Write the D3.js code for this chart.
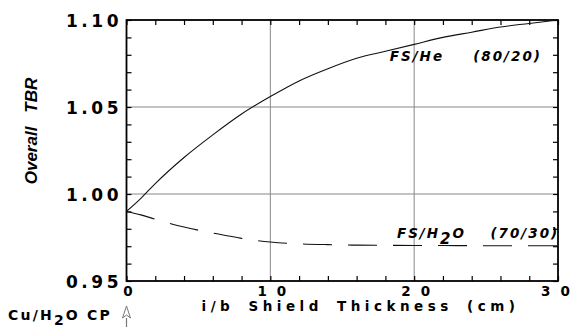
<!DOCTYPE html>
<html>
<head>
<meta charset="utf-8">
<script src="https://cdn.jsdelivr.net/npm/d3@7"></script>
<style>
  body { margin: 0; background: #fff; }
  svg { display: block; }
</style>
</head>
<body>
<div id="container"></div>
<script>
// shield thickness (cm)
let thickness = [0, 1, 2, 4, 6, 8, 10, 12, 14, 16, 18, 20, 22, 24, 26, 28, 30]
// overall TBR, FS/He (80/20)
let tbrHe = [0.990, 0.9975, 1.006, 1.021, 1.034, 1.046, 1.056, 1.065, 1.072, 1.078, 1.082, 1.086, 1.090, 1.093, 1.096, 1.098, 1.100]
// overall TBR, FS/H2O (70/30)
let tbrH2O = [0.990, 0.988, 0.9855, 0.981, 0.9776, 0.9745, 0.9724, 0.9714, 0.9709, 0.9706, 0.9705, 0.9704, 0.9704, 0.9703, 0.9703, 0.9703, 0.9703]

let xTickLabels = [0, 10, 20, 30]
let yTickLabels = [0.95, 1.00, 1.05, 1.10]
let xMinor = [0, 2, 4, 6, 8, 10, 12, 14, 16, 18, 20, 22, 24, 26, 28, 30]
let yMinor = [0.95, 0.96, 0.97, 0.98, 0.99, 1.00, 1.01, 1.02, 1.03, 1.04, 1.05, 1.06, 1.07, 1.08, 1.09, 1.10]
let xGrid = [10, 20]
let yGrid = [1.00, 1.05]

let w = 576, h = 327
let m = {left: 126.5, right: 18, top: 20, bottom: 46}

let svg = d3.select("#container").append("svg")
    .attr("width", w)
    .attr("height", h)

let x = d3.scaleLinear().domain([0, 30]).range([m.left, w - m.right])
let y = d3.scaleLinear().domain([0.95, 1.10]).range([h - m.bottom, m.top])

let numFont = "DejaVu Sans, sans-serif"

// spread the characters of a tick label without trailing space
function spread(sel, ls) {
    sel.each(function () {
        let t = d3.select(this)
        let s = t.text()
        t.text("")
        s.split("").forEach((c, i) => {
            t.append("tspan")
                .attr("dx", i > 0 ? ls : null)
                .text(c)
        })
    })
}

// grid
svg.append("g").selectAll("line").data(xGrid).join("line")
    .attr("x1", d => x(d)).attr("x2", d => x(d))
    .attr("y1", y(0.95)).attr("y2", y(1.10))
    .attr("stroke", "#888").attr("stroke-width", 1)
svg.append("g").selectAll("line").data(yGrid).join("line")
    .attr("x1", x(0)).attr("x2", x(30))
    .attr("y1", d => y(d)).attr("y2", d => y(d))
    .attr("stroke", "#888").attr("stroke-width", 1)

// axes with inward ticks
let fmtY = d => yTickLabels.some(v => Math.abs(v - d) < 1e-6) ? d3.format(".2f")(d) : ""
let fmtX = d => xTickLabels.includes(d) ? String(d) : ""

let gLeft = svg.append("g")
    .attr("transform", `translate(${x(0)},0)`)
    .call(d3.axisLeft(y).tickValues(yMinor).tickSize(-5).tickPadding(8).tickFormat(fmtY))
gLeft.selectAll("text")
    .attr("font-family", numFont).attr("font-weight", "bold")
    .attr("font-size", 17).attr("dy", "0.36em").attr("fill", "#000")
    .call(spread, 3.5)

let gRight = svg.append("g")
    .attr("transform", `translate(${x(30)},0)`)
    .call(d3.axisRight(y).tickValues(yMinor).tickSize(-5).tickFormat(""))

let gBottom = svg.append("g")
    .attr("transform", `translate(0,${y(0.95)})`)
    .call(d3.axisBottom(x).tickValues(xMinor).tickSize(-5).tickPadding(5.5).tickFormat(fmtX))
gBottom.selectAll("text")
    .attr("font-family", numFont).attr("font-weight", "bold")
    .attr("font-size", 13.5).attr("fill", "#000")
    .attr("dx", d => d === 30 ? -3 : 1)
    .call(spread, 10)

let gTop = svg.append("g")
    .attr("transform", `translate(0,${y(1.10)})`)
    .call(d3.axisTop(x).tickValues(xMinor).tickSize(-5).tickFormat(""))

;[gLeft, gRight, gBottom, gTop].forEach(g => {
    g.select(".domain").remove()
    g.selectAll("line").attr("stroke", "#000").attr("stroke-width", 1.2)
})

// frame
svg.append("rect")
    .attr("x", x(0)).attr("y", y(1.10))
    .attr("width", x(30) - x(0)).attr("height", y(0.95) - y(1.10))
    .attr("fill", "none").attr("stroke", "#000").attr("stroke-width", 1.8)

// curves
let line = d3.line().x(d => x(d[0])).y(d => y(d[1])).curve(d3.curveMonotoneX)

svg.append("path")
    .datum(d3.zip(thickness, tbrHe))
    .attr("d", line)
    .attr("fill", "none").attr("stroke", "#111").attr("stroke-width", 1.1)

svg.append("path")
    .datum(d3.zip(thickness, tbrH2O))
    .attr("d", line)
    .attr("fill", "none").attr("stroke", "#111").attr("stroke-width", 1.1)
    .attr("stroke-dasharray", "29,16")

// series labels
let lab = svg.append("g")
    .attr("font-family", numFont).attr("font-weight", "bold")
    .attr("font-style", "italic").attr("font-size", 13.5)
    .attr("letter-spacing", 2)

lab.append("text").attr("x", x(18.3)).attr("y", y(1.0764)).text("FS/He")
lab.append("text").attr("x", x(24.1)).attr("y", y(1.0764)).text("(80/20)")

let h2o = lab.append("text").attr("x", x(18.8)).attr("y", y(0.9747))
h2o.append("tspan").text("FS/H")
h2o.append("tspan").attr("dy", 6).attr("font-size", 15).text("2")
h2o.append("tspan").attr("dy", -6).text("O")
lab.append("text").attr("x", x(25.3)).attr("y", y(0.9747)).text("(70/30)")

// axis titles
let yt = svg.append("text")
    .attr("transform", `translate(36.5,131) rotate(-90)`)
    .attr("text-anchor", "middle")
    .attr("font-family", "Liberation Sans, Arial, sans-serif")
    .attr("font-weight", "bold").attr("font-style", "italic")
    .attr("font-size", 17)
yt.append("tspan").text("Overall")
yt.append("tspan").attr("dx", 14).text("TBR")

svg.append("text")
    .attr("x", 201.5).attr("y", 311)
    .attr("font-family", numFont).attr("font-weight", "bold")
    .attr("font-size", 13.5).attr("letter-spacing", 4.5).attr("word-spacing", 5)
    .text("i/b Shield Thickness (cm)")

// reference marker below x = 0
let cp = svg.append("text")
    .attr("x", 8).attr("y", 320)
    .attr("font-family", numFont).attr("font-weight", "bold")
    .attr("font-size", 14).attr("letter-spacing", 2.2)
cp.append("tspan").text("Cu/H")
cp.append("tspan").attr("dy", 5).attr("font-size", 14).text("2")
cp.append("tspan").attr("dy", -5).text("O CP")

let ax = x(0)
svg.append("line")
    .attr("x1", ax).attr("x2", ax).attr("y1", 318).attr("y2", 327)
    .attr("stroke", "#777").attr("stroke-width", 1.2)
svg.append("path")
    .attr("d", `M${ax},306 L${ax - 4},318 L${ax},315 L${ax + 4},318 Z`)
    .attr("fill", "#fff").attr("stroke", "#777").attr("stroke-width", 1)
</script>
</body>
</html>
